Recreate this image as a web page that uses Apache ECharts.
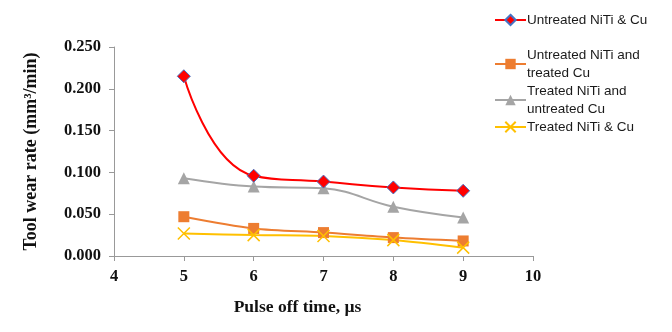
<!DOCTYPE html>
<html>
<head>
<meta charset="utf-8">
<script src="https://cdn.jsdelivr.net/npm/echarts@6/dist/echarts.min.js"></script>
<style>
  html, body { margin: 0; padding: 0; background: #fff; }
  #chart { width: 672px; height: 332px; }
</style>
</head>
<body>
<div id="chart"></div>
<script>
// pulse off time (µs)
var pulseOff = [5, 6, 7, 8, 9];
var untreatedBoth = [0.215, 0.096, 0.089, 0.082, 0.078];
var untreatedNiTiTreatedCu = [0.047, 0.033, 0.028, 0.022, 0.018];
var treatedNiTiUntreatedCu = [0.093, 0.083, 0.081, 0.059, 0.046];
var treatedBoth = [0.027, 0.025, 0.024, 0.019, 0.010];

var names = [
  "Untreated NiTi & Cu",
  "Untreated NiTi and\ntreated Cu",
  "Treated NiTi and\nuntreated Cu",
  "Treated NiTi & Cu"
];

function pairs(vals) {
  return pulseOff.map(function (x, i) { return [x, vals[i]]; });
}

var chart = echarts.init(document.getElementById("chart"));
var serif = "'Liberation Serif', 'Times New Roman', serif";
var sans = "'Liberation Sans', Arial, sans-serif";
var legendText = { fontFamily: sans, fontSize: 13.5, color: "#1a1a1a", lineHeight: 18, padding: [0, 0, 0, -4] };

chart.setOption({
  backgroundColor: "#fff",
  animation: false,
  grid: { left: 114, right: 139, top: 47, bottom: 76 },
  legend: [
    {
      data: [names[0]],
      orient: "vertical",
      left: 489,
      top: 6,
      itemWidth: 31,
      itemHeight: 13,
      textStyle: legendText
    },
    {
      data: [names[1], names[2], names[3]],
      orient: "vertical",
      left: 489,
      top: 41,
      itemWidth: 31,
      itemHeight: 13,
      itemGap: 0,
      textStyle: legendText
    }
  ],
  xAxis: {
    type: "value",
    min: 4,
    max: 10,
    interval: 1,
    name: "Pulse off time, µs",
    nameLocation: "middle",
    nameGap: 42,
    nameTextStyle: { fontFamily: serif, fontSize: 17.5, fontWeight: "bold", color: "#111", padding: [0, 52, 0, 0] },
    axisLine: { lineStyle: { color: "#999" } },
    axisTick: { show: true, length: 5, lineStyle: { color: "#999" } },
    axisLabel: { fontFamily: serif, fontSize: 16.5, fontWeight: "bold", color: "#111", margin: 12 },
    splitLine: { show: false }
  },
  yAxis: {
    type: "value",
    min: 0,
    max: 0.25,
    interval: 0.05,
    name: "Tool wear rate (mm³/min)",
    nameLocation: "middle",
    nameGap: 74,
    nameTextStyle: { fontFamily: serif, fontSize: 18, fontWeight: "bold", color: "#111" },
    axisLine: { show: true, lineStyle: { color: "#999" } },
    axisTick: { show: true, length: 5, lineStyle: { color: "#999" } },
    axisLabel: {
      fontFamily: serif, fontSize: 16.5, fontWeight: "bold", color: "#111", margin: 13,
      formatter: function (v) { return v.toFixed(3); }
    },
    splitLine: { show: false }
  },
  series: [
    {
      name: names[0],
      type: "line",
      smooth: 0.5,
      data: pairs(untreatedBoth),
      symbol: "diamond",
      symbolSize: 13,
      lineStyle: { color: "#FF0000", width: 2 },
      itemStyle: { color: "#FF0000", borderColor: "#4472C4", borderWidth: 1 },
      z: 5
    },
    {
      name: names[1],
      type: "line",
      smooth: 0.3,
      data: pairs(untreatedNiTiTreatedCu),
      symbol: "rect",
      symbolSize: 11,
      lineStyle: { color: "#ED7D31", width: 2 },
      itemStyle: { color: "#ED7D31" }
    },
    {
      name: names[2],
      type: "line",
      smooth: 0.4,
      data: pairs(treatedNiTiUntreatedCu),
      symbol: "triangle",
      symbolSize: 12,
      lineStyle: { color: "#A5A5A5", width: 2 },
      itemStyle: { color: "#A5A5A5" }
    },
    {
      name: names[3],
      type: "line",
      smooth: 0.3,
      data: pairs(treatedBoth),
      symbol: "path://M0,0L10,10M10,0L0,10",
      symbolSize: 12,
      lineStyle: { color: "#FFC000", width: 2 },
      itemStyle: { color: "none", borderColor: "#FFC000", borderWidth: 1.5 }
    }
  ]
});
</script>
</body>
</html>
